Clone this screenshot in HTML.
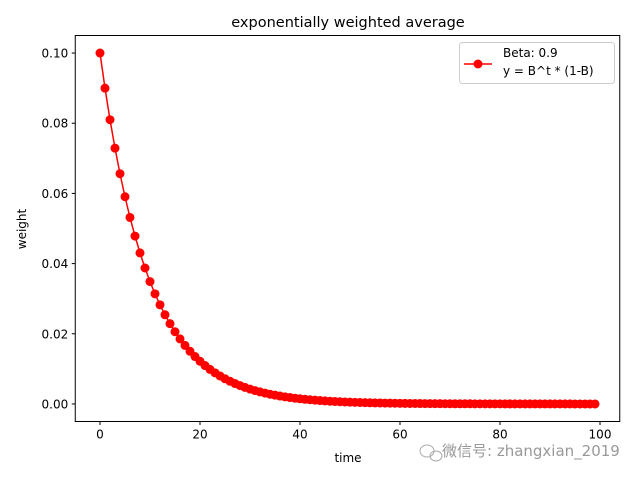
<!DOCTYPE html>
<html><head><meta charset="utf-8"><style>
body{margin:0;background:#fff;}
svg text{font-family:"DejaVu Sans","Liberation Sans","Noto Sans CJK SC",sans-serif;fill:#000;}
</style></head><body>
<svg id="chart" width="640" height="480" xmlns="http://www.w3.org/2000/svg">
<rect width="640" height="480" fill="#fff"/>
<text x="348" y="27" font-size="14.5" text-anchor="middle">exponentially weighted average</text>
<g id="xticks"></g>
<g id="yticks"></g>
<g id="series"></g>
<rect x="75.25" y="35.5" width="544.5" height="386" fill="none" stroke="#000" stroke-width="1"/>
<text x="348" y="462" font-size="12" text-anchor="middle">time</text>
<text x="26" y="229" font-size="12" text-anchor="middle" transform="rotate(-90 26 229)">weight</text>
<g>
<rect x="459.5" y="42.5" width="155" height="41" rx="3" fill="#fff" stroke="#ccc"/>
<line x1="464" y1="64" x2="492" y2="64" stroke="red" stroke-width="1.5"/>
<circle cx="478" cy="64" r="4.5" fill="red"/>
<text x="503" y="57" font-size="12">Beta: 0.9</text>
<text x="503" y="75" font-size="12">y = B^t * (1-B)</text>
</g>
<g fill="none" stroke="#aaa" stroke-width="1">
<ellipse cx="427" cy="451" rx="7" ry="6"/><ellipse cx="436" cy="456" rx="6" ry="5"/>
<text x="442" y="456" font-size="15" stroke="none" style="fill:#999">微信号: zhangxian_2019</text>
</g>
</svg>
<script>
const times=[];for(let i=0;i<100;i++)times.push(i);
const weights=[0.1,0.09,0.081,0.0729,0.06561,0.059049,0.053144,0.04783,0.043047,0.038742,0.034868,0.031381,0.028243,0.025419,0.022877,0.020589,0.01853,0.016677,0.015009,0.013509,0.012158,0.010942,0.009848,0.008863,0.007977,0.007179,0.006461,0.005815,0.005233,0.00471,0.004239,0.003815,0.003434,0.00309,0.002781,0.002503,0.002253,0.002028,0.001825,0.001642,0.001478,0.00133,0.001197,0.001078,0.00097,0.000873,0.000786,0.000707,0.000636,0.000573,0.000515,0.000464,0.000417,0.000376,0.000338,0.000304,0.000274,0.000247,0.000222,0.0002,0.00018,0.000162,0.000146,0.000131,0.000118,0.000106,0.0000955,0.000086,0.0000774,0.0000696,0.0000627,0.0000564,0.0000508,0.0000457,0.0000411,0.000037,0.0000333,0.00003,0.000027,0.0000243,0.0000218,0.0000197,0.0000177,0.0000159,0.0000143,0.0000129,0.0000116,0.0000104,0.0000094,0.0000085,0.0000076,0.0000069,0.0000062,0.0000055,0.000005,0.0000045,0.000004,0.0000036,0.0000033,0.000003];
const xTicks=[0,20,40,60,80,100];
const yTicks=[0,0.02,0.04,0.06,0.08,0.10];
const yTickLabels=["0.00","0.02","0.04","0.06","0.08","0.10"];
const NS="http://www.w3.org/2000/svg";
const L=75.25,R=619.75,T=35.5,B=421.5;
const xmin=-4.95,xmax=103.95,ymin=-0.005,ymax=0.105;
const xs=v=>L+(v-xmin)/(xmax-xmin)*(R-L);
const ys=v=>B-(v-ymin)/(ymax-ymin)*(B-T);
function mk(t,a,p){const e=document.createElementNS(NS,t);for(const k in a)e.setAttribute(k,a[k]);p.appendChild(e);return e;}
const gx=document.getElementById('xticks'),gy=document.getElementById('yticks'),gs=document.getElementById('series');
xTicks.forEach(v=>{const x=xs(v);
const l=mk('line',{x1:x,x2:x,y1:B,y2:B+3.5,stroke:'#000'},gx);


const t=mk('text',{x:x,y:B+17,'font-size':12,'text-anchor':'middle'},gx);t.textContent=v;

});
yTicks.forEach((v,i)=>{const y=ys(v);
const l=mk('line',{x1:L-3.5,x2:L,y1:y,y2:y,stroke:'#000'},gy);


const t=mk('text',{x:L-7,y:y+4.5,'font-size':12,'text-anchor':'end'},gy);t.textContent=yTickLabels[i];

});
const pts=times.map((t,i)=>xs(t)+','+ys(weights[i])).join(' ');
const pl=mk('polyline',{points:pts,fill:'none',stroke:'red','stroke-width':1.5},gs);


times.forEach((t,i)=>{const c=mk('circle',{cx:xs(t),cy:ys(weights[i]),r:4.5,fill:'red'},gs);

});
</script>
</body></html>
